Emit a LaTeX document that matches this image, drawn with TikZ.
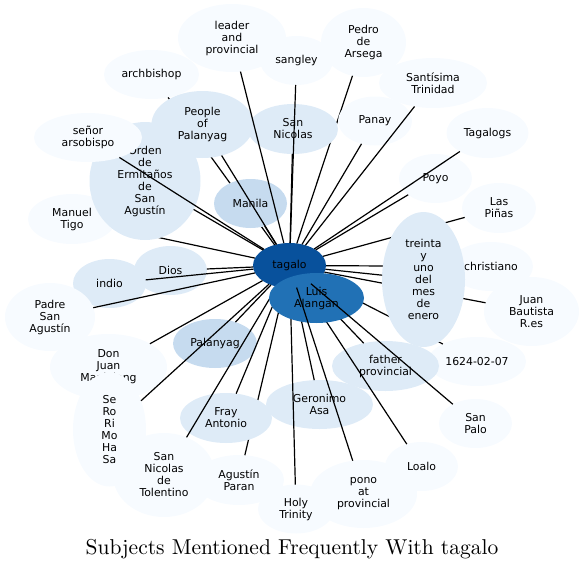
\documentclass[tikz,border=0pt]{standalone}
\usepackage{fontspec}
\usetikzlibrary{shapes.geometric}
\newfontfamily\labelfont{DejaVu Sans}
\newfontfamily\titlefont{lmroman10-regular}[Extension=.otf]
\definecolor{deep}{HTML}{08519C}
\definecolor{strong}{HTML}{2171B5}
\definecolor{mid}{HTML}{C6DBEF}
\definecolor{soft}{HTML}{DEEBF7}
\definecolor{pale}{HTML}{F7FBFF}
\tikzset{bub/.style={ellipse,inner sep=0pt,outer sep=0pt,align=center,font=\labelfont\fontsize{10.9}{12}\selectfont}, hub/.style={bub,fill=deep}, lead/.style={bub,fill=strong}, midb/.style={bub,fill=mid}, softb/.style={bub,fill=soft}, paleb/.style={bub,fill=pale}, link/.style={draw=black,line width=1.2pt}}
\begin{document}
\begin{tikzpicture}[x=1pt,y=-1pt]
\useasboundingbox (0,0) rectangle (584,571);
\node[hub,minimum width=73pt,minimum height=45pt] (tagalo) at (289.5,265.5) {tagalo};
% outer ring, drawn back to front
\node[paleb,minimum width=95pt,minimum height=49pt] (archbishop) at (151.5,74.5) {archbishop};
\draw[link] (archbishop)--(tagalo);
\node[paleb,minimum width=85pt,minimum height=69pt] (pedro) at (363.5,42.5) {Pedro\\de\\Arsega};
\draw[link] (pedro)--(tagalo);
\node[paleb,minimum width=88pt,minimum height=50pt] (tigo) at (72,219) {Manuel\\Tigo};
\draw[link] (tigo)--(tagalo);
\node[paleb,minimum width=74pt,minimum height=50pt] (pinas) at (499,208) {Las\\Piñas};
\draw[link] (pinas)--(tagalo);
\node[paleb,minimum width=84pt,minimum height=49pt] (christiano) at (491,266.5) {christiano};
\draw[link] (christiano)--(tagalo);
\node[paleb,minimum width=95pt,minimum height=69pt] (bautista) at (531.5,311.5) {Juan\\Bautista\\R.es};
\draw[link] (bautista)--(tagalo);
\node[paleb,minimum width=98pt,minimum height=49pt] (date) at (477,361.5) {1624-02-07};
\draw[link] (date)--(tagalo);
\node[paleb,minimum width=74pt,minimum height=49pt] (panay) at (375,121) {Panay};
\draw[link] (panay)--(tagalo);
\node[paleb,minimum width=108pt,minimum height=50pt] (trinidad) at (433,83) {Santísima\\Trinidad};
\draw[link] (trinidad)--(tagalo);
\node[paleb,minimum width=73pt,minimum height=49pt] (poyo) at (435.5,178.5) {Poyo};
\draw[link] (poyo)--(tagalo);
\node[paleb,minimum width=82pt,minimum height=50pt] (tagalogs) at (487.5,133) {Tagalogs};
\draw[link] (tagalogs)--(tagalo);
% left side
\node[softb,minimum width=73pt,minimum height=49pt] (dios) at (170.5,270.5) {Dios};
\draw[link] (dios)--(tagalo);
\node[softb,minimum width=73pt,minimum height=49pt] (indio) at (109.5,283.5) {indio};
\draw[link] (indio)--(tagalo);
\node[paleb,minimum width=90pt,minimum height=68pt] (padre) at (50,317) {Padre\\San\\Agustín};
\draw[link] (padre)--(tagalo);
\node[paleb,minimum width=117pt,minimum height=66pt] (donjuan) at (108.5,367) {Don\\Juan\\Maglalang};
\draw[link] (donjuan)--(tagalo);
\node[midb,minimum width=84pt,minimum height=49pt] (palanyag) at (215,343.5) {Palanyag};
\draw[link] (palanyag)--(tagalo);
\node[paleb,minimum width=73pt,minimum height=114pt] (sero) at (109.5,429.5) {Se\\Ro\\Ri\\Mo\\Ha\\Sa};
\draw[link] (sero)--(tagalo);
\node[paleb,minimum width=90pt,minimum height=50pt] (paran) at (239,480) {Agustín\\Paran};
\draw[link] (paran)--(tagalo);
\node[softb,minimum width=92pt,minimum height=50pt] (fray) at (226,418) {Fray\\Antonio};
\draw[link] (fray)--(tagalo);
\node[paleb,minimum width=102pt,minimum height=84pt] (tolentino) at (164,475) {San\\Nicolas\\de\\Tolentino};
\draw[link] (tolentino)--(tagalo);
% upper left
\node[midb,minimum width=73pt,minimum height=49pt] (manila) at (250.5,203.5) {Manila};
\draw[link] (manila)--(tagalo);
\node[softb,minimum width=111pt,minimum height=118pt] (orden) at (145,181) {Orden\\de\\Ermitaños\\de\\San\\Agustín};
\draw[link] (orden)--(tagalo);
\node[softb,minimum width=102pt,minimum height=67pt] (people) at (202.5,124.5) {People\\of\\Palanyag};
\draw[link] (people)--(tagalo);
\node[paleb,minimum width=108pt,minimum height=49pt] (senor) at (88,137.5) {señor\\arsobispo};
\draw[link] (senor)--(tagalo);
\node[softb,minimum width=90pt,minimum height=50pt] (nicolas) at (293,129) {San\\Nicolas};
\draw[link] (nicolas)--(tagalo);
\node[paleb,minimum width=73pt,minimum height=49pt] (sangley) at (296.5,60.5) {sangley};
\draw[link] (sangley)--(tagalo);
\node[paleb,minimum width=108pt,minimum height=68pt] (leader) at (232,38) {leader\\and\\provincial};
\draw[link] (leader)--(tagalo);
% right and bottom
\node[softb,minimum width=83pt,minimum height=135pt] (treinta) at (423.5,279.5) {treinta\\y\\uno\\del\\mes\\de\\enero};
\draw[link] (treinta)--(tagalo);
\node[softb,minimum width=107pt,minimum height=50pt] (father) at (385.5,366) {father\\provincial};
\draw[link] (father)--(tagalo);
\node[softb,minimum width=107pt,minimum height=49pt] (asa) at (319.5,404.5) {Geronimo\\Asa};
\draw[link] (asa)--(tagalo);
\node[paleb,minimum width=76pt,minimum height=49pt] (holy) at (296,509) {Holy\\Trinity};
\draw[link] (holy)--(tagalo);
\node[paleb,minimum width=73pt,minimum height=49pt] (loalo) at (421.5,466.5) {Loalo};
\draw[link] (loalo)--(tagalo);
\node[lead,minimum width=95pt,minimum height=50pt] (luis) at (316.5,298) {Luis\\Alangan};
\node[paleb,minimum width=107pt,minimum height=68pt] (pono) at (363.5,494) {pono\\at\\provincial};
\draw[link] (pono)--(tagalo);
\node[paleb,minimum width=73pt,minimum height=49pt] (palo) at (475.5,423.5) {San\\Palo};
\draw[link] (palo)--(tagalo);
\node[font=\titlefont\fontsize{21.5}{25}\selectfont] (title) at (292,549) {Subjects Mentioned Frequently With tagalo};
\end{tikzpicture}
\end{document}
